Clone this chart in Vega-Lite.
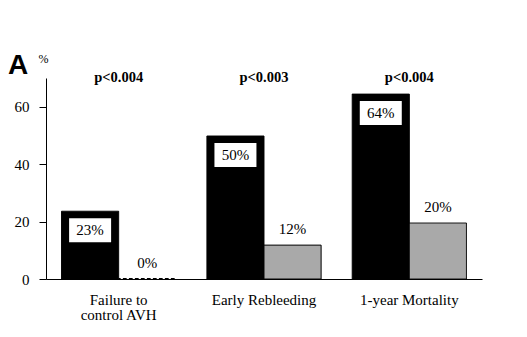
{
  "$schema": "https://vega.github.io/schema/vega-lite/v6.json",
  "width": 436,
  "height": 201,
  "autosize": "none",
  "padding": {"left": 46, "top": 78, "right": 45, "bottom": 58},
  "background": "white",
  "config": {
    "view": {"stroke": null},
    "font": "Times New Roman, Liberation Serif, serif",
    "axis": {"labelFont": "Times New Roman, Liberation Serif, serif", "titleFont": "Times New Roman, Liberation Serif, serif"},
    "text": {"font": "Times New Roman, Liberation Serif, serif"}
  },
  "title": {"text": "A", "font": "Liberation Sans", "fontSize": 28, "fontWeight": "bold", "anchor": "start", "frame": "group", "dx": -38, "dy": 30, "offset": 2, "color": "black"},
  "datasets": {
    "bars": [
      {"category": "Failure to control AVH", "group": "Group 1", "value": 23.6, "label": "23%"},
      {"category": "Failure to control AVH", "group": "Group 2", "value": 0, "label": "0%"},
      {"category": "Early Rebleeding", "group": "Group 1", "value": 49.8, "label": "50%"},
      {"category": "Early Rebleeding", "group": "Group 2", "value": 11.8, "label": "12%"},
      {"category": "1-year Mortality", "group": "Group 1", "value": 64.4, "label": "64%"},
      {"category": "1-year Mortality", "group": "Group 2", "value": 19.5, "label": "20%"}
    ],
    "pvals": [
      {"category": "Failure to control AVH", "p": "p<0.004"},
      {"category": "Early Rebleeding", "p": "p<0.003"},
      {"category": "1-year Mortality", "p": "p<0.004"}
    ]
  },
  "encoding": {
    "x": {
      "field": "category",
      "type": "nominal",
      "sort": ["Failure to control AVH", "Early Rebleeding", "1-year Mortality"],
      "scale": {"paddingInner": 0.214, "paddingOuter": 0.107},
      "axis": {
        "title": null,
        "ticks": false,
        "domainColor": "black",
        "domainWidth": 1.2,
        "labelAngle": 0,
        "labelPadding": 13,
        "labelFont": "Times New Roman, Liberation Serif, serif",
        "labelFontSize": 15,
        "labelColor": "black",
        "labelLineHeight": 15,
        "labelBaseline": "top",
        "labelExpr": "datum.label == 'Failure to control AVH' ? ['Failure to', 'control AVH'] : datum.label"
      }
    }
  },
  "layer": [
    {
      "data": {"name": "bars"},
      "mark": {"type": "bar", "stroke": "black", "strokeWidth": 1},
      "encoding": {
        "xOffset": {"field": "group", "type": "nominal", "scale": {"paddingInner": 0, "paddingOuter": 0}},
        "y": {
          "field": "value",
          "type": "quantitative",
          "scale": {"domain": [0, 70], "nice": false},
          "axis": {
            "title": "%",
            "titleFont": "Times New Roman, Liberation Serif, serif",
            "titleAngle": 0,
            "titleX": -8,
            "titleY": -20,
            "titleAlign": "left",
            "titleBaseline": "middle",
            "titleFontSize": 12,
            "titleFontWeight": "normal",
            "titleColor": "black",
            "values": [0, 10, 20, 30, 40, 50, 60],
            "labelExpr": "datum.value % 20 == 0 ? datum.label : ''",
            "tickSize": 7,
            "tickColor": "black",
            "domainColor": "black",
            "labelPadding": 10,
            "labelFont": "Times New Roman, Liberation Serif, serif",
            "labelFontSize": 15,
            "labelColor": "black",
            "grid": false
          }
        },
        "fill": {
          "field": "group",
          "type": "nominal",
          "scale": {"domain": ["Group 1", "Group 2"], "range": ["#000000", "#a9a9a9"]},
          "legend": null
        },
        "strokeDash": {"condition": {"test": "datum.value == 0", "value": [2, 4]}, "value": [1, 0]},
        "strokeWidth": {"condition": {"test": "datum.value == 0", "value": 2}, "value": 1}
      }
    },
    {
      "data": {"name": "bars"},
      "transform": [{"filter": "datum.group == 'Group 1'"}],
      "mark": {"type": "bar", "width": 42, "yOffset": 7, "y2Offset": 31, "fill": "white"},
      "encoding": {
        "xOffset": {"field": "group", "type": "nominal", "scale": {"domain": ["Group 1", "Group 2"], "paddingInner": 0, "paddingOuter": 0}},
        "y": {"field": "value", "type": "quantitative"},
        "y2": {"field": "value"}
      }
    },
    {
      "data": {"name": "bars"},
      "transform": [{"filter": "datum.group == 'Group 1'"}],
      "mark": {"type": "text", "dy": 19, "baseline": "middle", "fontSize": 15, "color": "black"},
      "encoding": {
        "xOffset": {"field": "group", "type": "nominal", "scale": {"domain": ["Group 1", "Group 2"], "paddingInner": 0, "paddingOuter": 0}},
        "y": {"field": "value", "type": "quantitative"},
        "text": {"field": "label"}
      }
    },
    {
      "data": {"name": "bars"},
      "transform": [{"filter": "datum.group == 'Group 2'"}],
      "mark": {"type": "text", "dy": -11, "baseline": "alphabetic", "fontSize": 15, "color": "black"},
      "encoding": {
        "xOffset": {"field": "group", "type": "nominal", "scale": {"domain": ["Group 1", "Group 2"], "paddingInner": 0, "paddingOuter": 0}},
        "y": {"field": "value", "type": "quantitative"},
        "text": {"field": "label"}
      }
    },
    {
      "data": {"name": "pvals"},
      "mark": {"type": "text", "baseline": "middle", "fontSize": 14.5, "fontWeight": "bold", "color": "black"},
      "encoding": {
        "y": {"datum": 70, "type": "quantitative"},
        "text": {"field": "p"}
      }
    }
  ]
}
